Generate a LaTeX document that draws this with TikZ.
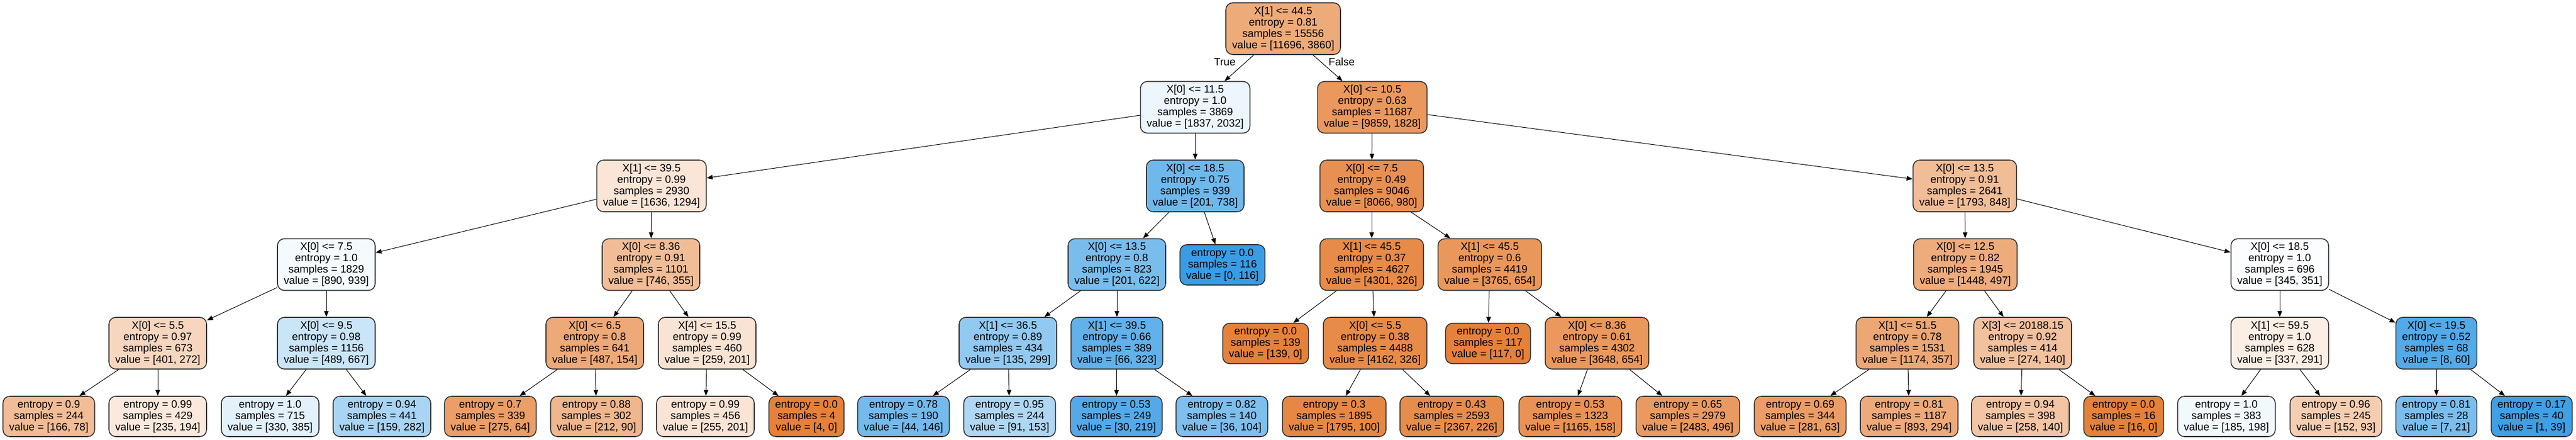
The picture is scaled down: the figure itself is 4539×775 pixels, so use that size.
\documentclass[tikz,border=0pt]{standalone}
\usepackage{fontspec}
\setmainfont{Liberation Sans}
\usetikzlibrary{arrows.meta}
\definecolor{co}{RGB}{229,129,57}
\definecolor{cb}{RGB}{57,157,229}
\newcommand{\dtD}[4]{#1\\entropy = #2\\samples = #3\\value = [#4]}
\newcommand{\dtL}[3]{entropy = #1\\samples = #2\\value = [#3]}
\begin{document}
\begin{tikzpicture}[x=0.5pt,y=-0.5pt,
  dec/.style={draw=black!80, line width=0.8pt, rounded corners=6pt, minimum height=45.5pt,
    align=center, inner xsep=5.5pt, inner ysep=0pt, font=\fontsize{9.4}{10}\selectfont},
  leaf/.style={dec, minimum height=35.5pt},
  edge/.style={draw=black, line width=0.5pt, -{Triangle[length=5.2pt,width=4pt]}},
  lab/.style={font=\fontsize{9.4}{10}\selectfont, inner sep=0pt}]
\fill[white] (0,0) rectangle (4539,775);
\useasboundingbox (0,0) rectangle (4539,775);
% level 0
\node[dec, fill=co!67!white] (n0) at (2261,50.5) {\dtD{X[1] <= 44.5}{0.81}{15556}{11696, 3860}};
% level 1
\node[dec, fill=cb!9.6!white] (n1) at (2106,189) {\dtD{X[0] <= 11.5}{1.0}{3869}{1837, 2032}};
\node[dec, fill=co!81.5!white] (n2) at (2418,189) {\dtD{X[0] <= 10.5}{0.63}{11687}{9859, 1828}};
% level 2
\node[dec, fill=co!20.9!white] (n3) at (1148,327.5) {\dtD{X[1] <= 39.5}{0.99}{2930}{1636, 1294}};
\node[dec, fill=cb!72.8!white] (n4) at (2106,327.5) {\dtD{X[0] <= 18.5}{0.75}{939}{201, 738}};
\node[dec, fill=co!87.9!white] (n5) at (2417,327.5) {\dtD{X[0] <= 7.5}{0.49}{9046}{8066, 980}};
\node[dec, fill=co!52.7!white] (n6) at (3462,327.5) {\dtD{X[0] <= 13.5}{0.91}{2641}{1793, 848}};
% level 3
\node[dec, fill=cb!5.2!white] (n7) at (575,466) {\dtD{X[0] <= 7.5}{1.0}{1829}{890, 939}};
\node[dec, fill=co!52.4!white] (n8) at (1147,466) {\dtD{X[0] <= 8.36}{0.91}{1101}{746, 355}};
\node[dec, fill=cb!67.7!white] (n9) at (1968,466) {\dtD{X[0] <= 13.5}{0.8}{823}{201, 622}};
\node[leaf, fill=cb] (n10) at (2154,466.5) {\dtL{0.0}{116}{0, 116}};
\node[dec, fill=co!92.4!white] (n11) at (2417,466) {\dtD{X[1] <= 45.5}{0.37}{4627}{4301, 326}};
\node[dec, fill=co!82.6!white] (n12) at (2625,466) {\dtD{X[1] <= 45.5}{0.6}{4419}{3765, 654}};
\node[dec, fill=co!65.7!white] (n13) at (3463,466) {\dtD{X[0] <= 12.5}{0.82}{1945}{1448, 497}};
\node[dec, fill=cb!1.7!white] (n14) at (4017,466) {\dtD{X[0] <= 18.5}{1.0}{696}{345, 351}};
% level 4
\node[dec, fill=co!32.2!white] (n15) at (278,604.5) {\dtD{X[0] <= 5.5}{0.97}{673}{401, 272}};
\node[dec, fill=cb!26.7!white] (n16) at (575,604.5) {\dtD{X[0] <= 9.5}{0.98}{1156}{489, 667}};
\node[dec, fill=co!68.4!white] (n17) at (1048,604.5) {\dtD{X[0] <= 6.5}{0.8}{641}{487, 154}};
\node[dec, fill=co!22.4!white] (n18) at (1246,604.5) {\dtD{X[4] <= 15.5}{0.99}{460}{259, 201}};
\node[dec, fill=cb!54.8!white] (n19) at (1776,604.5) {\dtD{X[1] <= 36.5}{0.89}{434}{135, 299}};
\node[dec, fill=cb!79.6!white] (n20) at (1968,604.5) {\dtD{X[1] <= 39.5}{0.66}{389}{66, 323}};
\node[leaf, fill=co] (n21) at (2230,605) {\dtL{0.0}{139}{139, 0}};
\node[dec, fill=co!92.2!white] (n22) at (2423,604.5) {\dtD{X[0] <= 5.5}{0.38}{4488}{4162, 326}};
\node[leaf, fill=co] (n23) at (2622,605) {\dtL{0.0}{117}{117, 0}};
\node[dec, fill=co!82.1!white] (n24) at (2814,604.5) {\dtD{X[0] <= 8.36}{0.61}{4302}{3648, 654}};
\node[dec, fill=co!69.6!white] (n25) at (3361,604.5) {\dtD{X[1] <= 51.5}{0.78}{1531}{1174, 357}};
\node[dec, fill=co!48.9!white] (n26) at (3564,604.5) {\dtD{X[3] <= 20188.15}{0.92}{414}{274, 140}};
\node[dec, fill=co!13.65!white] (n27) at (4017,604.5) {\dtD{X[1] <= 59.5}{1.0}{628}{337, 291}};
\node[dec, fill=cb!86.7!white] (n28) at (4293,604.5) {\dtD{X[0] <= 19.5}{0.52}{68}{8, 60}};
% level 5
\node[leaf, fill=co!53!white] (n29) at (86,733.5) {\dtL{0.9}{244}{166, 78}};
\node[leaf, fill=co!17.45!white] (n30) at (278,733.5) {\dtL{0.99}{429}{235, 194}};
\node[leaf, fill=cb!14.3!white] (n31) at (476,733.5) {\dtL{1.0}{715}{330, 385}};
\node[leaf, fill=cb!43.6!white] (n32) at (673,733.5) {\dtL{0.94}{441}{159, 282}};
\node[leaf, fill=co!76.7!white] (n33) at (864,733.5) {\dtL{0.7}{339}{275, 64}};
\node[leaf, fill=co!57.55!white] (n34) at (1051,733.5) {\dtL{0.88}{302}{212, 90}};
\node[leaf, fill=co!21.2!white] (n35) at (1243,733.5) {\dtL{0.99}{456}{255, 201}};
\node[leaf, fill=co] (n36) at (1421,733.5) {\dtL{0.0}{4}{4, 0}};
\node[leaf, fill=cb!69.9!white] (n37) at (1592,733.5) {\dtL{0.78}{190}{44, 146}};
\node[leaf, fill=cb!40.5!white] (n38) at (1779,733.5) {\dtL{0.95}{244}{91, 153}};
\node[leaf, fill=cb!86.3!white] (n39) at (1967,733.5) {\dtL{0.53}{249}{30, 219}};
\node[leaf, fill=cb!65.4!white] (n40) at (2153,733.5) {\dtL{0.82}{140}{36, 104}};
\node[leaf, fill=co!94.4!white] (n41) at (2351,733.5) {\dtL{0.3}{1895}{1795, 100}};
\node[leaf, fill=co!90.45!white] (n42) at (2558,733.5) {\dtL{0.43}{2593}{2367, 226}};
\node[leaf, fill=co!86.4!white] (n43) at (2767,733.5) {\dtL{0.53}{1323}{1165, 158}};
\node[leaf, fill=co!80!white] (n44) at (2974,733.5) {\dtL{0.65}{2979}{2483, 496}};
\node[leaf, fill=co!77.6!white] (n45) at (3172,733.5) {\dtL{0.69}{344}{281, 63}};
\node[leaf, fill=co!67.1!white] (n46) at (3364,733.5) {\dtL{0.81}{1187}{893, 294}};
\node[leaf, fill=co!45.7!white] (n47) at (3560,733.5) {\dtL{0.94}{398}{258, 140}};
\node[leaf, fill=co] (n48) at (3742,733.5) {\dtL{0.0}{16}{16, 0}};
\node[leaf, fill=cb!6.6!white] (n49) at (3923,733.5) {\dtL{1.0}{383}{185, 198}};
\node[leaf, fill=co!38.8!white] (n50) at (4116,733.5) {\dtL{0.96}{245}{152, 93}};
\node[leaf, fill=cb!66.7!white] (n51) at (4293,733.5) {\dtL{0.81}{28}{7, 21}};
\node[leaf, fill=cb!97.4!white] (n52) at (4461,733.5) {\dtL{0.17}{40}{1, 39}};
% edges
\draw[edge] (n0) -- (n1);
\draw[edge] (n0) -- (n2);
\draw[edge] (n1) -- (n3);
\draw[edge] (n1) -- (n4);
\draw[edge] (n2) -- (n5);
\draw[edge] (n2) -- (n6);
\draw[edge] (n3) -- (n7);
\draw[edge] (n3) -- (n8);
\draw[edge] (n4) -- (n9);
\draw[edge] (n4) -- (n10);
\draw[edge] (n5) -- (n11);
\draw[edge] (n5) -- (n12);
\draw[edge] (n6) -- (n13);
\draw[edge] (n6) -- (n14);
\draw[edge] (n7) -- (n15);
\draw[edge] (n7) -- (n16);
\draw[edge] (n8) -- (n17);
\draw[edge] (n8) -- (n18);
\draw[edge] (n9) -- (n19);
\draw[edge] (n9) -- (n20);
\draw[edge] (n11) -- (n21);
\draw[edge] (n11) -- (n22);
\draw[edge] (n12) -- (n23);
\draw[edge] (n12) -- (n24);
\draw[edge] (n13) -- (n25);
\draw[edge] (n13) -- (n26);
\draw[edge] (n14) -- (n27);
\draw[edge] (n14) -- (n28);
\draw[edge] (n15) -- (n29);
\draw[edge] (n15) -- (n30);
\draw[edge] (n16) -- (n31);
\draw[edge] (n16) -- (n32);
\draw[edge] (n17) -- (n33);
\draw[edge] (n17) -- (n34);
\draw[edge] (n18) -- (n35);
\draw[edge] (n18) -- (n36);
\draw[edge] (n19) -- (n37);
\draw[edge] (n19) -- (n38);
\draw[edge] (n20) -- (n39);
\draw[edge] (n20) -- (n40);
\draw[edge] (n22) -- (n41);
\draw[edge] (n22) -- (n42);
\draw[edge] (n24) -- (n43);
\draw[edge] (n24) -- (n44);
\draw[edge] (n25) -- (n45);
\draw[edge] (n25) -- (n46);
\draw[edge] (n26) -- (n47);
\draw[edge] (n26) -- (n48);
\draw[edge] (n27) -- (n49);
\draw[edge] (n27) -- (n50);
\draw[edge] (n28) -- (n51);
\draw[edge] (n28) -- (n52);
% edge labels
\node[lab] (tl) at (2158,109) {True};
\node[lab] (fl) at (2364,109) {False};
\end{tikzpicture}
\end{document}
